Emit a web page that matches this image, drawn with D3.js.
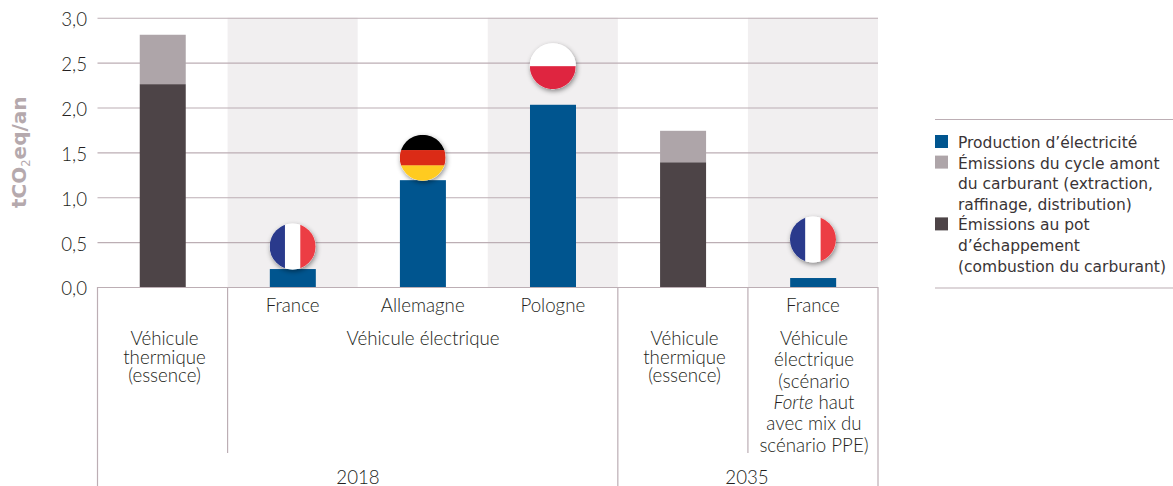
<!DOCTYPE html>
<html><head><meta charset="utf-8">
<script src="https://cdn.jsdelivr.net/npm/d3@7/dist/d3.min.js"></script>
<style>html,body{margin:0;padding:0;background:#fff}svg{display:block}
.lab,.tick-lab{font-family:Lato,sans-serif;font-weight:300;font-size:18.7px;fill:#231e20}
.leg{font-family:"DejaVu Sans",sans-serif;font-size:15.5px;fill:#3a3436}
</style></head><body><svg width="1173" height="486"></svg>
<script>
const categories=["thermique2018","France","Allemagne","Pologne","thermique2035","France2035"];
const countryLabels=["","France","Allemagne","Pologne","","France"];
const electricite=[0,0.20,1.19,2.03,0,0.10];
const amont=[0.55,0,0,0,0.35,0];
const echappement=[2.26,0,0,0,1.39,0];
const flagValues=[null,0.45,1.44,2.46,null,0.53];
const flagKinds=[null,"fr","de","pl",null,"fr"];
const yTicks=[0,0.5,1,1.5,2,2.5,3];
const shaded=[1,3,5];
const legendRows=[
 {c:"#00558f",lines:["Production d’électricité"]},
 {c:"#aea5a9",lines:["Émissions du cycle amont","du carburant (extraction,","raffinage, distribution)"]},
 {c:"#4d4447",lines:["Émissions au pot","d’échappement","(combustion du carburant)"]}];
const flagStripes={
 fr:{dir:"v",parts:[["#2a3a8c",1/3],["#ffffff",1/3],["#ec3d44",1/3]]},
 de:{dir:"h",parts:[["#000000",1/3],["#db2b16",1/3],["#ffcb20",1/3]]},
 pl:{dir:"h",parts:[["#ffffff",.5],["#df2540",.5]]}};

const svg=d3.select("svg");
const x=d3.scaleBand().domain(categories).range([97.5,878]);
const y=d3.scaleLinear().domain([0,3]).range([287,17.7]);
const barW=46, line="#bcaeb4";
const defs=svg.append("defs");
const f=defs.append("filter").attr("id","sh").attr("x","-30%").attr("y","-30%").attr("width","160%").attr("height","160%");
f.append("feDropShadow").attr("dx",1).attr("dy",2).attr("stdDeviation",2.5).attr("flood-color","#000").attr("flood-opacity",.45);

// shaded bands
svg.append("g").selectAll("rect").data(shaded).join("rect")
 .attr("x",i=>x(categories[i])).attr("width",x.bandwidth()).attr("y",y(3)).attr("height",y(0)-y(3)).attr("fill","#f1eff0");

// grid
svg.append("g").selectAll("line").data(yTicks).join("line")
 .attr("x1",97.5).attr("x2",878).attr("y1",d=>y(d)+.5).attr("y2",d=>y(d)+.5).attr("stroke",line).attr("stroke-width",1.1);

// y axis labels
const ya=svg.append("g").attr("transform","translate(87,2)").call(d3.axisLeft(y).tickValues(yTicks).tickSize(0).tickPadding(0).tickFormat(d=>d3.format(".1f")(d).replace(".",",")));
ya.select(".domain").remove();
ya.attr("font-size",null).attr("font-family",null);
ya.selectAll("text").attr("class","tick-lab");

// bars
const series=[[echappement,"#4d4447"],[amont,"#aea5a9"],[electricite,"#00558f"]];
const base=categories.map(()=>0);
series.forEach(([vals,col])=>{
 const g=svg.append("g");
 categories.forEach((c,i)=>{
  if(vals[i]>0){
   g.append("rect").attr("x",x(c)+x.bandwidth()/2-barW/2+.2).attr("width",barW)
    .attr("y",y(base[i]+vals[i])).attr("height",y(base[i])-y(base[i]+vals[i])).attr("fill",col);
   base[i]+=vals[i];
  }
 });
});

// axis structure
const vLines=[[0,486],[1,453],[4,486],[5,453],[6,486]];
svg.append("g").selectAll("line").data(vLines).join("line")
 .attr("x1",d=>97.5+d[0]*x.bandwidth()).attr("x2",d=>97.5+d[0]*x.bandwidth())
 .attr("y1",287).attr("y2",d=>d[1]).attr("stroke",line).attr("stroke-width",1.2);
svg.append("line").attr("x1",97.5).attr("x2",878).attr("y1",287.5).attr("y2",287.5).attr("stroke",line).attr("stroke-width",1.2);

// flags
categories.forEach((c,i)=>{
 if(flagValues[i]==null)return;
 const cx=x(c)+x.bandwidth()/2, cy=y(flagValues[i]), r=23, s=flagStripes[flagKinds[i]];
 const id="clip"+i;
 defs.append("clipPath").attr("id",id).append("circle").attr("cx",cx).attr("cy",cy).attr("r",r);
 svg.append("circle").attr("cx",cx).attr("cy",cy).attr("r",r).attr("fill","#fff").attr("filter","url(#sh)");
 const g=svg.append("g").attr("clip-path",`url(#${id})`);
 let acc=0;
 s.parts.forEach(([col,p])=>{
  if(s.dir==="v") g.append("rect").attr("x",cx-r+acc*2*r).attr("y",cy-r).attr("width",p*2*r+.3).attr("height",2*r).attr("fill",col);
  else g.append("rect").attr("x",cx-r).attr("y",cy-r+acc*2*r).attr("width",2*r).attr("height",p*2*r+.3).attr("fill",col);
  acc+=p;
 });
});

// category labels
function txt(t,cx,by,cls="lab"){return svg.append("text").attr("class",cls).attr("x",cx).attr("y",by).attr("text-anchor","middle").text(t);}
countryLabels.forEach((l,i)=>{ if(l) txt(l,x(categories[i])+x.bandwidth()/2,312); });
[["Véhicule",345],["thermique",364],["(essence)",382]].forEach(([t,b])=>{txt(t,164.5,b);txt(t,684.5,b);});
txt("Véhicule électrique",423,345);
const rightLines=["Véhicule","électrique","(scénario",null,"avec mix du","scénario PPE)"];
const rightBase=[345,366,388,409,430,452];
rightLines.forEach((t,i)=>{ if(t) txt(t,814,rightBase[i]); });
const fh=txt("",814,rightBase[3]);
fh.append("tspan").attr("font-style","italic").text("Forte");
fh.append("tspan").text(" haut");
txt("2018",358,484);
txt("2035",747,484);

// y title
const yt=svg.append("text").attr("transform","translate(26,208) rotate(-90)")
 .attr("font-family","'DejaVu Sans',sans-serif").attr("font-weight","bold").attr("font-size",20).attr("fill","#b5a9ad");
yt.append("tspan").text("tCO");
yt.append("tspan").attr("font-size",11.5).attr("dy",4).attr("font-weight","normal").text("2");
yt.append("tspan").attr("dy",-4).text("eq/an");

// legend
svg.append("g").selectAll("line").data([119.5,288]).join("line")
 .attr("x1",935).attr("x2",1173).attr("y1",d=>d).attr("y2",d=>d).attr("stroke",line).attr("stroke-width",1.2);
let ly=148;
legendRows.forEach(r=>{
 svg.append("rect").attr("x",935).attr("y",ly-13).attr("width",13).attr("height",13).attr("fill",r.c);
 r.lines.forEach(l=>{
  svg.append("text").attr("class","leg").attr("x",958).attr("y",ly).text(l);
  ly+=20.6;
 });
});
</script></body></html>
